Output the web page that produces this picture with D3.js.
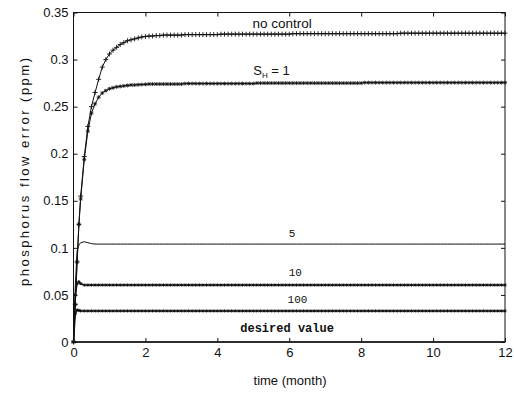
<!DOCTYPE html>
<html><head><meta charset="utf-8">
<script src="https://cdn.jsdelivr.net/npm/d3@7"></script>
<style>body{margin:0;background:#fff}svg{display:block}</style>
</head><body><svg id="c" width="514" height="394"></svg>
<script>
// sample times (month)
const months = [0,0.05,0.1,0.15,0.2,0.3,0.4,0.5,0.6,0.7,0.8,0.9,1,1.1,1.2,1.3,1.4,1.5,1.6,1.7,1.8,1.9,2,
2.1,2.2,2.3,2.4,2.5,2.6,2.7,2.8,2.9,3,
3.1,3.2,3.3,3.4,3.5,3.6,3.7,3.8,3.9,4,
4.1,4.2,4.3,4.4,4.5,4.6,4.7,4.8,4.9,5,
5.1,5.2,5.3,5.4,5.5,5.6,5.7,5.8,5.9,6,
6.1,6.2,6.3,6.4,6.5,6.6,6.7,6.8,6.9,7,
7.1,7.2,7.3,7.4,7.5,7.6,7.7,7.8,7.9,8,
8.1,8.2,8.3,8.4,8.5,8.6,8.7,8.8,8.9,9,
9.1,9.2,9.3,9.4,9.5,9.6,9.7,9.8,9.9,10,
10.1,10.2,10.3,10.4,10.5,10.6,10.7,10.8,10.9,11,
11.1,11.2,11.3,11.4,11.5,11.6,11.7,11.8,11.9,12];

const noControl = [0,0.04,0.085,0.125,0.155,0.197,0.229,0.25,0.265,0.279,0.292,0.3,0.306,0.31,0.313,0.316,0.318,0.32,0.321,0.322,0.323,0.324,0.3245,
0.325,0.325,0.3255,0.3255,0.326,0.326,0.326,0.326,0.326,0.326,
0.3265,0.3265,0.3265,0.3265,0.3265,0.3265,0.3265,0.3265,0.3265,0.3265,
0.327,0.327,0.327,0.327,0.327,0.327,0.327,0.327,0.327,0.327,
0.327,0.327,0.327,0.327,0.327,0.327,0.327,0.327,0.327,0.327,
0.3275,0.3275,0.3275,0.3275,0.3275,0.3275,0.3275,0.3275,0.3275,0.3275,
0.3275,0.3275,0.3275,0.3275,0.3275,0.3275,0.3275,0.3275,0.3275,0.3275,
0.3275,0.3275,0.3275,0.3275,0.3275,0.3275,0.3275,0.3275,0.3275,0.3275,
0.328,0.328,0.328,0.328,0.328,0.328,0.328,0.328,0.328,0.328,
0.328,0.328,0.328,0.328,0.328,0.328,0.328,0.328,0.328,0.328,
0.328,0.328,0.328,0.328,0.328,0.328,0.328,0.328,0.328,0.328];

const sH1 = [0,0.04,0.085,0.125,0.152,0.194,0.224,0.243,0.253,0.26,0.2645,0.267,0.269,0.27,0.271,0.2715,0.272,0.2725,0.273,0.273,0.2733,0.2735,0.2737,
0.274,0.274,0.274,0.274,0.274,0.274,0.274,0.274,0.274,0.274,
0.2745,0.2745,0.2745,0.2745,0.2745,0.2745,0.2745,0.2745,0.2745,0.2745,
0.2745,0.2745,0.2745,0.2745,0.2745,0.2745,0.2745,0.2745,0.2745,0.2745,
0.275,0.275,0.275,0.275,0.275,0.275,0.275,0.275,0.275,0.275,
0.275,0.275,0.275,0.275,0.275,0.275,0.275,0.275,0.275,0.275,
0.275,0.275,0.275,0.275,0.275,0.275,0.275,0.275,0.275,0.275,
0.2755,0.2755,0.2755,0.2755,0.2755,0.2755,0.2755,0.2755,0.2755,0.2755,
0.2755,0.2755,0.2755,0.2755,0.2755,0.2755,0.2755,0.2755,0.2755,0.2755,
0.2755,0.2755,0.2755,0.2755,0.2755,0.2755,0.2755,0.2755,0.2755,0.2755,
0.2755,0.2755,0.2755,0.2755,0.2755,0.2755,0.2755,0.2755,0.2755,0.2755];

const sH5 = [0,0.06,0.097,0.103,0.1055,0.1065,0.1055,0.1045,0.104,0.104,0.104,0.104,0.104,0.104,0.104,0.104,0.104,0.104,0.104,0.104,0.104,0.104,0.104,
0.104,0.104,0.104,0.104,0.104,0.104,0.104,0.104,0.104,0.104,
0.104,0.104,0.104,0.104,0.104,0.104,0.104,0.104,0.104,0.104,
0.104,0.104,0.104,0.104,0.104,0.104,0.104,0.104,0.104,0.104,
0.104,0.104,0.104,0.104,0.104,0.104,0.104,0.104,0.104,0.104,
0.104,0.104,0.104,0.104,0.104,0.104,0.104,0.104,0.104,0.104,
0.104,0.104,0.104,0.104,0.104,0.104,0.104,0.104,0.104,0.104,
0.104,0.104,0.104,0.104,0.104,0.104,0.104,0.104,0.104,0.104,
0.104,0.104,0.104,0.104,0.104,0.104,0.104,0.104,0.104,0.104,
0.104,0.104,0.104,0.104,0.104,0.104,0.104,0.104,0.104,0.104,
0.104,0.104,0.104,0.104,0.104,0.104,0.104,0.104,0.104,0.104];

const sH10 = [0,0.05,0.062,0.064,0.062,0.0605,0.0605,0.0605,0.0605,0.0605,0.0605,0.0605,0.0605,0.0605,0.0605,0.0605,0.0605,0.0605,0.0605,0.0605,0.0605,0.0605,0.0605,
0.0605,0.0605,0.0605,0.0605,0.0605,0.0605,0.0605,0.0605,0.0605,0.0605,
0.0605,0.0605,0.0605,0.0605,0.0605,0.0605,0.0605,0.0605,0.0605,0.0605,
0.0605,0.0605,0.0605,0.0605,0.0605,0.0605,0.0605,0.0605,0.0605,0.0605,
0.0605,0.0605,0.0605,0.0605,0.0605,0.0605,0.0605,0.0605,0.0605,0.0605,
0.0605,0.0605,0.0605,0.0605,0.0605,0.0605,0.0605,0.0605,0.0605,0.0605,
0.0605,0.0605,0.0605,0.0605,0.0605,0.0605,0.0605,0.0605,0.0605,0.0605,
0.0605,0.0605,0.0605,0.0605,0.0605,0.0605,0.0605,0.0605,0.0605,0.0605,
0.0605,0.0605,0.0605,0.0605,0.0605,0.0605,0.0605,0.0605,0.0605,0.0605,
0.0605,0.0605,0.0605,0.0605,0.0605,0.0605,0.0605,0.0605,0.0605,0.0605,
0.0605,0.0605,0.0605,0.0605,0.0605,0.0605,0.0605,0.0605,0.0605,0.0605];

const sH100 = [0,0.03,0.034,0.0335,0.033,0.033,0.033,0.033,0.033,0.033,0.033,0.033,0.033,0.033,0.033,0.033,0.033,0.033,0.033,0.033,0.033,0.033,0.033,
0.033,0.033,0.033,0.033,0.033,0.033,0.033,0.033,0.033,0.033,
0.033,0.033,0.033,0.033,0.033,0.033,0.033,0.033,0.033,0.033,
0.033,0.033,0.033,0.033,0.033,0.033,0.033,0.033,0.033,0.033,
0.033,0.033,0.033,0.033,0.033,0.033,0.033,0.033,0.033,0.033,
0.033,0.033,0.033,0.033,0.033,0.033,0.033,0.033,0.033,0.033,
0.033,0.033,0.033,0.033,0.033,0.033,0.033,0.033,0.033,0.033,
0.033,0.033,0.033,0.033,0.033,0.033,0.033,0.033,0.033,0.033,
0.033,0.033,0.033,0.033,0.033,0.033,0.033,0.033,0.033,0.033,
0.033,0.033,0.033,0.033,0.033,0.033,0.033,0.033,0.033,0.033,
0.033,0.033,0.033,0.033,0.033,0.033,0.033,0.033,0.033,0.033];

const desiredMonths = [0, 12];
const desiredValues = [0, 0];

const xTicks = [0, 2, 4, 6, 8, 10, 12];
const xTickLabels = ["0", "2", "4", "6", "8", "10", "12"];
const yTicks = [0, 0.05, 0.1, 0.15, 0.2, 0.25, 0.3, 0.35];
const yTickLabels = ["0", "0.05", "0.1", "0.15", "0.2", "0.25", "0.3", "0.35"];

const svg = d3.select("#c");
const x = d3.scaleLinear().domain([0, 12]).range([73.5, 505]);
const y = d3.scaleLinear().domain([0, 0.35]).range([342, 12.5]);
const font = "'Liberation Sans', Arial, sans-serif";

// frame
svg.append("rect").attr("x", x(0)).attr("y", y(0.35)).attr("width", x(12) - x(0)).attr("height", y(0) - y(0.35))
  .attr("fill", "none").attr("stroke", "#111").attr("stroke-width", 1);

function styleAxis(g, showText) {
  g.select(".domain").remove();
  g.selectAll(".tick line").attr("stroke", "#111");
  g.selectAll(".tick text").attr("font-family", font).attr("font-size", 13).attr("fill", "#111");
  if (!showText) g.selectAll(".tick text").remove();
}
const xa = d3.axisBottom(x).tickValues(xTicks).tickFormat((d, i) => xTickLabels[i]).tickSizeInner(-4).tickSizeOuter(0).tickPadding(6);
const ya = d3.axisLeft(y).tickValues(yTicks).tickFormat((d, i) => yTickLabels[i]).tickSizeInner(-4).tickSizeOuter(0).tickPadding(5);
svg.append("g").attr("transform", `translate(0,${y(0)})`).call(xa).call(g => styleAxis(g, true));
svg.append("g").attr("transform", `translate(${x(0)},0)`).call(ya).call(g => styleAxis(g, true));
svg.append("g").attr("transform", `translate(0,${y(0.35)})`).call(d3.axisTop(x).tickValues(xTicks).tickSizeInner(-4).tickSizeOuter(0)).call(g => styleAxis(g, false));
svg.append("g").attr("transform", `translate(${x(12)},0)`).call(d3.axisRight(y).tickValues(yTicks).tickSizeInner(-4).tickSizeOuter(0)).call(g => styleAxis(g, false));

const line = d3.line().x(d => x(d[0])).y(d => y(d[1]));
function series(vals) { return months.map((t, i) => [t, vals[i]]); }

function drawLine(data, w) {
  svg.append("path").datum(data).attr("d", line).attr("fill", "none").attr("stroke", "#111").attr("stroke-width", w);
}
function plusPath(px, py, s) { return `M${px - s},${py}h${2 * s}M${px},${py - s}v${2 * s}`; }
function crossPath(px, py, s) { return `M${px - s},${py - s}l${2 * s},${2 * s}M${px - s},${py + s}l${2 * s},${-2 * s}`; }
function drawMarkers(data, kind, s, w) {
  svg.append("g").selectAll("path").data(data).join("path")
    .attr("d", d => {
      const px = x(d[0]), py = y(d[1]);
      if (kind === "+") return plusPath(px, py, s);
      if (kind === "x") return crossPath(px, py, s);
      return plusPath(px, py, s) + crossPath(px, py, s * 0.75);
    })
    .attr("fill", "none").attr("stroke", "#111").attr("stroke-width", w);
}

// desired value
drawLine(desiredMonths.map((t, i) => [t, desiredValues[i]]), 1.6);
// S_H = 100
drawLine(series(sH100), 1.4);
drawMarkers(series(sH100), "*", 1.6, 0.9);
// S_H = 10
drawLine(series(sH10), 1.4);
drawMarkers(series(sH10), "*", 1.6, 0.9);
// S_H = 5
drawLine(series(sH5), 1);
// S_H = 1
drawLine(series(sH1), 1);
drawMarkers(series(sH1), "*", 2, 0.8);
// no control
drawLine(series(noControl), 1);
drawMarkers(series(noControl), "+", 2.5, 0.9);

// annotations
const mono = "'Liberation Mono', 'Courier New', monospace";
svg.append("text").attr("x", x(5.8)).attr("y", y(0.3335)).attr("text-anchor", "middle")
  .attr("font-family", font).attr("font-size", 13.5).attr("fill", "#111").text("no control");
const sh = svg.append("text").attr("x", x(5.0)).attr("y", y(0.2836)).attr("font-family", font).attr("font-size", 13).attr("fill", "#111");
sh.append("tspan").text("S");
sh.append("tspan").attr("font-size", 8).attr("dy", 3).text("H");
sh.append("tspan").attr("dy", -3).text(" = 1");
svg.append("text").attr("x", x(6.08)).attr("y", y(0.1115)).attr("text-anchor", "middle")
  .attr("font-family", mono).attr("font-size", 11).attr("fill", "#111").text("5");
svg.append("text").attr("x", x(6.17)).attr("y", y(0.0696)).attr("text-anchor", "middle")
  .attr("font-family", mono).attr("font-size", 11).attr("fill", "#111").text("10");
svg.append("text").attr("x", x(6.23)).attr("y", y(0.0414)).attr("text-anchor", "middle")
  .attr("font-family", mono).attr("font-size", 11).attr("fill", "#111").text("100");
svg.append("text").attr("x", x(5.94)).attr("y", y(0.0106)).attr("text-anchor", "middle")
  .attr("font-family", mono).attr("font-size", 12).attr("font-weight", "bold").attr("fill", "#111").text("desired value");

// axis titles
svg.append("text").attr("x", 290).attr("y", 385).attr("text-anchor", "middle")
  .attr("font-family", font).attr("font-size", 13).attr("fill", "#111").text("time (month)");
svg.append("text").attr("transform", "translate(29,172) rotate(-90)").attr("text-anchor", "middle")
  .attr("font-family", font).attr("font-size", 13).attr("fill", "#111")
  .attr("textLength", 228).attr("lengthAdjust", "spacing").text("phosphorus flow error (ppm)");
</script></body></html>
